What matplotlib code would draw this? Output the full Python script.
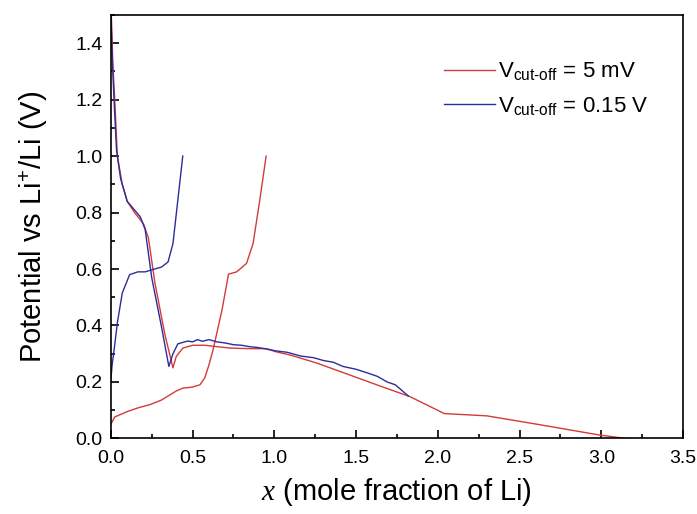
import matplotlib
matplotlib.use("Agg")
import matplotlib.pyplot as plt

plt.rcParams['font.family'] = ['Liberation Sans', 'DejaVu Sans']
plt.rcParams['mathtext.fontset'] = 'custom'
plt.rcParams['mathtext.rm'] = 'Liberation Sans'
plt.rcParams['mathtext.it'] = 'Liberation Serif:italic'

# V_cut-off = 5 mV (red): discharge and charge
red_dis_x = [0.003, 0.006, 0.012, 0.024, 0.04, 0.07, 0.10, 0.145, 0.20, 0.23, 0.27, 0.33, 0.38,
             0.40, 0.44, 0.50, 0.575, 0.65, 0.73, 0.85, 0.95, 1.01, 1.10, 1.26, 1.46, 1.65,
             1.83, 2.04, 2.30, 2.63, 2.99, 3.15]
red_dis_y = [1.50, 1.45, 1.33, 1.20, 1.00, 0.90, 0.84, 0.80, 0.76, 0.71, 0.55, 0.37, 0.25,
             0.29, 0.32, 0.33, 0.33, 0.325, 0.32, 0.318, 0.318, 0.307, 0.295, 0.267, 0.225, 0.185,
             0.148, 0.088, 0.08, 0.048, 0.012, 0.0]
red_chg_x = [0.0, 0.024, 0.10, 0.165, 0.24, 0.31, 0.40, 0.44, 0.50, 0.545, 0.575, 0.60, 0.625,
             0.68, 0.72, 0.77, 0.83, 0.87, 0.91, 0.95]
red_chg_y = [0.05, 0.076, 0.095, 0.108, 0.12, 0.136, 0.168, 0.178, 0.182, 0.19, 0.215, 0.26, 0.313,
             0.455, 0.582, 0.59, 0.62, 0.69, 0.84, 1.0]

# V_cut-off = 0.15 V (blue): discharge and charge
blue_dis_x = [0.0, 0.005, 0.012, 0.022, 0.035, 0.06, 0.10, 0.18, 0.21, 0.25, 0.31, 0.355,
              0.38, 0.41, 0.44, 0.47, 0.50, 0.53, 0.56, 0.60, 0.65, 0.70, 0.75, 0.80, 0.85,
              0.90, 0.95, 1.01, 1.08, 1.16, 1.24, 1.30, 1.36, 1.42, 1.50, 1.57, 1.63, 1.69,
              1.74, 1.78, 1.82]
blue_dis_y = [1.50, 1.42, 1.30, 1.17, 1.02, 0.92, 0.84, 0.785, 0.74, 0.57, 0.395, 0.255,
              0.30, 0.335, 0.34, 0.345, 0.342, 0.35, 0.344, 0.35, 0.342, 0.338, 0.332, 0.33, 0.325,
              0.322, 0.317, 0.31, 0.305, 0.292, 0.286, 0.276, 0.27, 0.255, 0.245, 0.232, 0.22, 0.2,
              0.19, 0.17, 0.15]
blue_chg_x = [0.0, 0.008, 0.02, 0.04, 0.07, 0.115, 0.165, 0.21, 0.25, 0.31, 0.35, 0.38, 0.41, 0.44]
blue_chg_y = [0.205, 0.26, 0.313, 0.41, 0.515, 0.58, 0.59, 0.59, 0.597, 0.607, 0.625, 0.69, 0.845, 1.0]

red = '#d43a3a'
blue = '#2c2c9c'

fig = plt.figure(figsize=(6.97, 5.14), dpi=100)
ax = fig.add_axes([0.159, 0.147, 0.821, 0.824])

ax.plot(red_dis_x, red_dis_y, color=red, lw=1.0, label=r'V$_{\mathrm{cut\text{-}off}}$ = 5 mV')
ax.plot(red_chg_x, red_chg_y, color=red, lw=1.0)
ax.plot(blue_dis_x, blue_dis_y, color=blue, lw=1.0, label=r'V$_{\mathrm{cut\text{-}off}}$ = 0.15 V')
ax.plot(blue_chg_x, blue_chg_y, color=blue, lw=1.0)

ax.set_xlim(0, 3.5)
ax.set_ylim(0, 1.5)
ax.set_xticks([0.0, 0.5, 1.0, 1.5, 2.0, 2.5, 3.0, 3.5])
ax.set_yticks([0.0, 0.2, 0.4, 0.6, 0.8, 1.0, 1.2, 1.4])
ax.set_xticks([0.25, 0.75, 1.25, 1.75, 2.25, 2.75, 3.25], minor=True)
ax.set_yticks([0.1, 0.3, 0.5, 0.7, 0.9, 1.1, 1.3, 1.5], minor=True)
ax.xaxis.set_major_formatter(plt.FormatStrFormatter('%.1f'))
ax.yaxis.set_major_formatter(plt.FormatStrFormatter('%.1f'))
ax.tick_params(which='both', direction='in', labelsize=14, width=1.2)
ax.tick_params(which='major', length=6)
ax.tick_params(which='minor', length=3)
ax.tick_params(axis='x', which='major', pad=8)
ax.tick_params(axis='y', which='major', pad=6)
for s in ax.spines.values():
    s.set_linewidth(1.2)

ax.set_xlabel(r'$x$ (mole fraction of Li)', fontsize=21, labelpad=7)
ax.set_ylabel(r'Potential vs Li$^{+}$/Li (V)', fontsize=21, labelpad=18)

ax.legend(loc='upper right', bbox_to_anchor=(0.975, 0.94), frameon=False, fontsize=16,
          handlelength=2.3, handletextpad=0.15, labelspacing=0.55)

fig.savefig('out.png', dpi=100)
